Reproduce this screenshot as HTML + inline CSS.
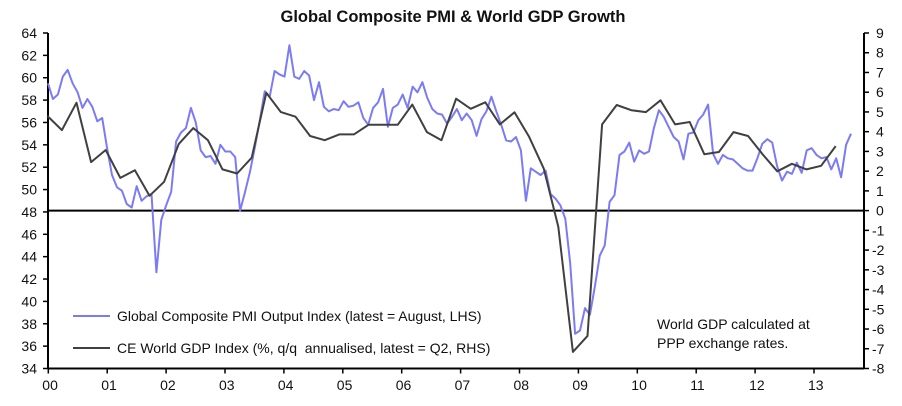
<!DOCTYPE html>
<html><head><meta charset="utf-8"><style>
body{margin:0;background:#fff;}
svg{display:block;font-family:"Liberation Sans",sans-serif;}
</style></head><body>
<svg id="chart" width="902" height="406" viewBox="0 0 902 406">
<text x="453" y="22" text-anchor="middle" font-size="16.5" font-weight="bold" fill="#111">Global Composite PMI &amp; World GDP Growth</text>
<g id="axes"></g>
<g id="series"></g>
<g>
<line x1="73" y1="316" x2="110" y2="316" stroke="#7b7bf5" stroke-width="2"/>
<text x="117" y="321" font-size="14" fill="#111">Global Composite PMI Output Index (latest = August, LHS)</text>
<line x1="73" y1="348" x2="110" y2="348" stroke="#404040" stroke-width="2"/>
<text x="117" y="353" font-size="14" fill="#111" xml:space="preserve">CE World GDP Index (%, q/q  annualised, latest = Q2, RHS)</text>
</g>
<text x="657" y="329" font-size="14" fill="#111">World GDP calculated at</text>
<text x="657" y="348" font-size="14" fill="#111">PPP exchange rates.</text>
</svg>
<script>
const pmiValues=[59.5,58.1,58.5,60.1,60.7,59.5,58.7,57.3,58.1,57.4,56.1,56.4,53.7,51.3,50.2,49.9,48.7,48.4,50.3,49.0,49.4,49.6,42.6,47.3,48.6,49.8,54.3,55.1,55.5,57.3,56.0,53.5,52.9,53.0,52.3,
54.0,53.4,53.4,52.9,48.1,49.8,51.6,53.8,56.2,58.8,58.3,60.6,60.3,60.1,62.9,60.1,59.9,60.6,60.2,58.0,59.6,57.4,57.0,57.2,57.1,57.9,57.4,57.5,57.8,56.4,55.8,57.3,57.8,
59.0,55.6,57.3,57.6,58.5,57.3,59.2,58.7,59.6,58.2,57.2,56.8,56.7,55.9,56.5,57.2,56.2,56.8,56.2,54.8,56.3,57.0,58.3,57.0,55.8,54.4,54.3,54.7,53.5,49.0,51.9,51.6,51.3,
51.7,49.6,49.2,48.6,47.4,43.4,37.1,37.4,39.4,38.8,41.3,44.1,45.0,48.9,49.5,53.1,53.4,54.2,52.5,53.5,53.2,53.4,55.5,57.1,56.5,55.6,54.7,54.3,52.7,55.0,55.1,56.2,
56.7,57.6,53.2,52.3,53.1,52.8,52.7,52.3,51.9,51.7,51.7,52.8,54.1,54.5,54.2,52.1,50.8,51.6,51.4,52.4,51.5,53.5,53.7,53.1,52.8,52.9,51.8,52.8,51.1,54.0,55.0];
const gdpValues=[4.8,4.08,5.47,2.46,3.07,1.66,2.05,0.75,1.46,3.37,4.18,3.57,2.09,1.88,2.68,5.97,4.99,4.76,3.78,3.57,3.86,3.86,4.35,4.35,4.35,5.37,3.98,3.57,5.67,5.16,5.49,4.37,4.98,3.74,2.14,-0.82,-7.16,-6.35,4.37,5.35,5.09,4.99,5.59,4.37,4.49,2.86,2.97,3.98,3.78,2.85,1.99,2.37,2.09,2.27,3.27];
const yearLabels=["00","01","02","03","04","05","06","07","08","09","10","11","12","13"];
const leftTicks=[64,62,60,58,56,54,52,50,48,46,44,42,40,38,36,34];
const rightTicks=[9,8,7,6,5,4,3,2,1,0,-1,-2,-3,-4,-5,-6,-7,-8];

const X0=48.3,YEARW=58.9,TOP=33,BOT=368.5,XL=48,XR=864;
const xScale=t=>X0+(t-2000)*YEARW;
const yL=v=>TOP+(64-v)*(BOT-TOP)/30;
const yR=v=>TOP+(9-v)*(BOT-TOP)/17;
const NS="http://www.w3.org/2000/svg";
function mk(tag,attrs,parent){const e=document.createElementNS(NS,tag);for(const k in attrs)e.setAttribute(k,attrs[k]);parent.appendChild(e);return e;}
const axes=document.getElementById('axes'),series=document.getElementById('series');

let e;
e=mk('line',{x1:XL,y1:TOP,x2:XL,y2:BOT,stroke:'#000','stroke-width':2},axes);


e=mk('line',{x1:XR,y1:TOP,x2:XR,y2:BOT,stroke:'#000','stroke-width':2},axes);


e=mk('line',{x1:XL,y1:BOT,x2:XR,y2:BOT,stroke:'#000','stroke-width':2},axes);


e=mk('line',{x1:XL,y1:yR(0),x2:XR,y2:yR(0),stroke:'#000','stroke-width':2},axes);



leftTicks.forEach(v=>{
  mk('line',{x1:XL-5,y1:yL(v),x2:XL,y2:yL(v),stroke:'#000','stroke-width':1.5},axes);
  const t=mk('text',{x:37,y:yL(v)+5,'text-anchor':'end','font-size':14,fill:'#111'},axes);
  t.textContent=v;
  
  
});
rightTicks.forEach(v=>{
  mk('line',{x1:XR,y1:yR(v),x2:XR+5,y2:yR(v),stroke:'#000','stroke-width':1.5},axes);
  const t=mk('text',{x:v<0?872:876,y:yR(v)+5,'font-size':14,fill:'#111'},axes);
  t.textContent=v;
  
  
});
yearLabels.forEach((lab,i)=>{
  const x=xScale(2000+i);
  mk('line',{x1:x,y1:BOT,x2:x,y2:BOT+5,stroke:'#000','stroke-width':1.5},axes);
  const t=mk('text',{x:x-6,y:390,'font-size':14,fill:'#111'},axes);
  t.textContent=lab;
  
  
});

const pmiPts=pmiValues.map((v,m)=>(48+m*(851-48)/(pmiValues.length-1)).toFixed(1)+','+yL(v).toFixed(1)).join(' ');
const pmiLine=mk('polyline',{points:pmiPts,fill:'none',stroke:'#7b7bf5','stroke-width':2,'stroke-linejoin':'round'},series);


const gdpPts=gdpValues.map((v,k)=>(47.3+k*14.6).toFixed(1)+','+yR(v).toFixed(1)).join(' ');
const gdpLine=mk('polyline',{points:gdpPts,fill:'none',stroke:'#404040','stroke-width':2,'stroke-linejoin':'round'},series);


</script>
</body></html>
